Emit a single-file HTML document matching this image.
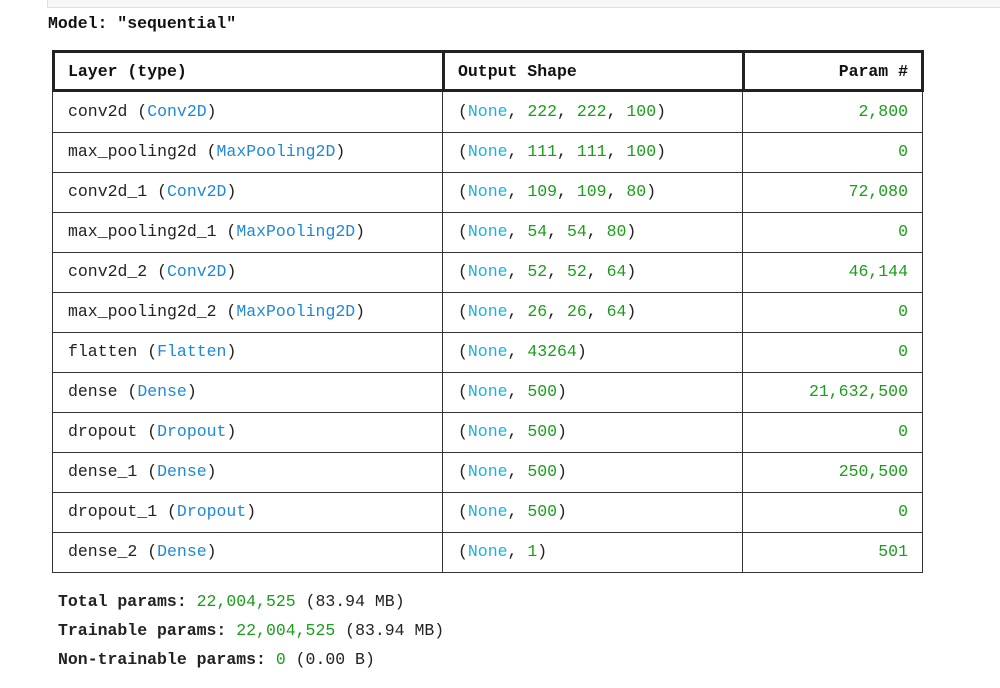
<!DOCTYPE html>
<html><head><style>
body{margin:0;width:1000px;height:688px;background:#fff;position:relative;overflow:hidden;font-family:"Liberation Mono","DejaVu Sans Mono",monospace;font-size:16.5px;color:#222}
.top{position:absolute;left:47px;top:-2px;width:960px;height:8px;background:#f7f7f7;border:1px solid #e0e0e0}
.t{position:absolute;white-space:pre;line-height:20px}
.b{font-weight:bold;color:#111}
.c{color:#1e88d8}.n{color:#1cb2d6}.g{color:#1a9e1a}
.hl{position:absolute;background:#222}
.ln{position:absolute;background:#333}
.r{text-align:right;width:300px}
</style></head><body>
<div class="top"></div>
<div class="t b" style="left:48px;top:14px">Model: "sequential"</div>
<!-- header box thick -->
<div class="hl" style="left:52px;top:50px;width:872px;height:3px"></div>
<div class="hl" style="left:52px;top:89px;width:872px;height:3px"></div>
<div class="hl" style="left:52px;top:50px;width:3px;height:42px"></div>
<div class="hl" style="left:442px;top:50px;width:3px;height:42px"></div>
<div class="hl" style="left:742px;top:50px;width:3px;height:42px"></div>
<div class="hl" style="left:921px;top:50px;width:3px;height:42px"></div>
<div class="t b" style="left:68px;top:62px">Layer (type)</div>
<div class="t b" style="left:458px;top:62px">Output Shape</div>
<div class="t b r" style="left:608px;top:62px">Param #</div>
<!-- body lines -->
<div class="ln" style="left:52px;top:92px;width:1px;height:481px"></div>
<div class="ln" style="left:442px;top:92px;width:1px;height:481px"></div>
<div class="ln" style="left:742px;top:92px;width:1px;height:481px"></div>
<div class="ln" style="left:922px;top:92px;width:1px;height:481px"></div>
<div class="ln" style="left:52px;top:132px;width:871px;height:1px"></div>
<div class="ln" style="left:52px;top:172px;width:871px;height:1px"></div>
<div class="ln" style="left:52px;top:212px;width:871px;height:1px"></div>
<div class="ln" style="left:52px;top:252px;width:871px;height:1px"></div>
<div class="ln" style="left:52px;top:292px;width:871px;height:1px"></div>
<div class="ln" style="left:52px;top:332px;width:871px;height:1px"></div>
<div class="ln" style="left:52px;top:372px;width:871px;height:1px"></div>
<div class="ln" style="left:52px;top:412px;width:871px;height:1px"></div>
<div class="ln" style="left:52px;top:452px;width:871px;height:1px"></div>
<div class="ln" style="left:52px;top:492px;width:871px;height:1px"></div>
<div class="ln" style="left:52px;top:532px;width:871px;height:1px"></div>
<div class="ln" style="left:52px;top:572px;width:871px;height:1px"></div>
<!-- rows -->
<div class="t" style="left:68px;top:102px">conv2d (<span class="c">Conv2D</span>)</div>
<div class="t" style="left:458px;top:102px">(<span class="n">None</span>, <span class="g">222</span>, <span class="g">222</span>, <span class="g">100</span>)</div>
<div class="t g r" style="left:608px;top:102px">2,800</div>

<div class="t" style="left:68px;top:142px">max_pooling2d (<span class="c">MaxPooling2D</span>)</div>
<div class="t" style="left:458px;top:142px">(<span class="n">None</span>, <span class="g">111</span>, <span class="g">111</span>, <span class="g">100</span>)</div>
<div class="t g r" style="left:608px;top:142px">0</div>

<div class="t" style="left:68px;top:182px">conv2d_1 (<span class="c">Conv2D</span>)</div>
<div class="t" style="left:458px;top:182px">(<span class="n">None</span>, <span class="g">109</span>, <span class="g">109</span>, <span class="g">80</span>)</div>
<div class="t g r" style="left:608px;top:182px">72,080</div>

<div class="t" style="left:68px;top:222px">max_pooling2d_1 (<span class="c">MaxPooling2D</span>)</div>
<div class="t" style="left:458px;top:222px">(<span class="n">None</span>, <span class="g">54</span>, <span class="g">54</span>, <span class="g">80</span>)</div>
<div class="t g r" style="left:608px;top:222px">0</div>

<div class="t" style="left:68px;top:262px">conv2d_2 (<span class="c">Conv2D</span>)</div>
<div class="t" style="left:458px;top:262px">(<span class="n">None</span>, <span class="g">52</span>, <span class="g">52</span>, <span class="g">64</span>)</div>
<div class="t g r" style="left:608px;top:262px">46,144</div>

<div class="t" style="left:68px;top:302px">max_pooling2d_2 (<span class="c">MaxPooling2D</span>)</div>
<div class="t" style="left:458px;top:302px">(<span class="n">None</span>, <span class="g">26</span>, <span class="g">26</span>, <span class="g">64</span>)</div>
<div class="t g r" style="left:608px;top:302px">0</div>

<div class="t" style="left:68px;top:342px">flatten (<span class="c">Flatten</span>)</div>
<div class="t" style="left:458px;top:342px">(<span class="n">None</span>, <span class="g">43264</span>)</div>
<div class="t g r" style="left:608px;top:342px">0</div>

<div class="t" style="left:68px;top:382px">dense (<span class="c">Dense</span>)</div>
<div class="t" style="left:458px;top:382px">(<span class="n">None</span>, <span class="g">500</span>)</div>
<div class="t g r" style="left:608px;top:382px">21,632,500</div>

<div class="t" style="left:68px;top:422px">dropout (<span class="c">Dropout</span>)</div>
<div class="t" style="left:458px;top:422px">(<span class="n">None</span>, <span class="g">500</span>)</div>
<div class="t g r" style="left:608px;top:422px">0</div>

<div class="t" style="left:68px;top:462px">dense_1 (<span class="c">Dense</span>)</div>
<div class="t" style="left:458px;top:462px">(<span class="n">None</span>, <span class="g">500</span>)</div>
<div class="t g r" style="left:608px;top:462px">250,500</div>

<div class="t" style="left:68px;top:502px">dropout_1 (<span class="c">Dropout</span>)</div>
<div class="t" style="left:458px;top:502px">(<span class="n">None</span>, <span class="g">500</span>)</div>
<div class="t g r" style="left:608px;top:502px">0</div>

<div class="t" style="left:68px;top:542px">dense_2 (<span class="c">Dense</span>)</div>
<div class="t" style="left:458px;top:542px">(<span class="n">None</span>, <span class="g">1</span>)</div>
<div class="t g r" style="left:608px;top:542px">501</div>

<div class="t" style="left:58px;top:592px"><b>Total params:</b> <span class="g">22,004,525</span> (83.94 MB)</div>
<div class="t" style="left:58px;top:621px"><b>Trainable params:</b> <span class="g">22,004,525</span> (83.94 MB)</div>
<div class="t" style="left:58px;top:650px"><b>Non-trainable params:</b> <span class="g">0</span> (0.00 B)</div>
</body></html>
